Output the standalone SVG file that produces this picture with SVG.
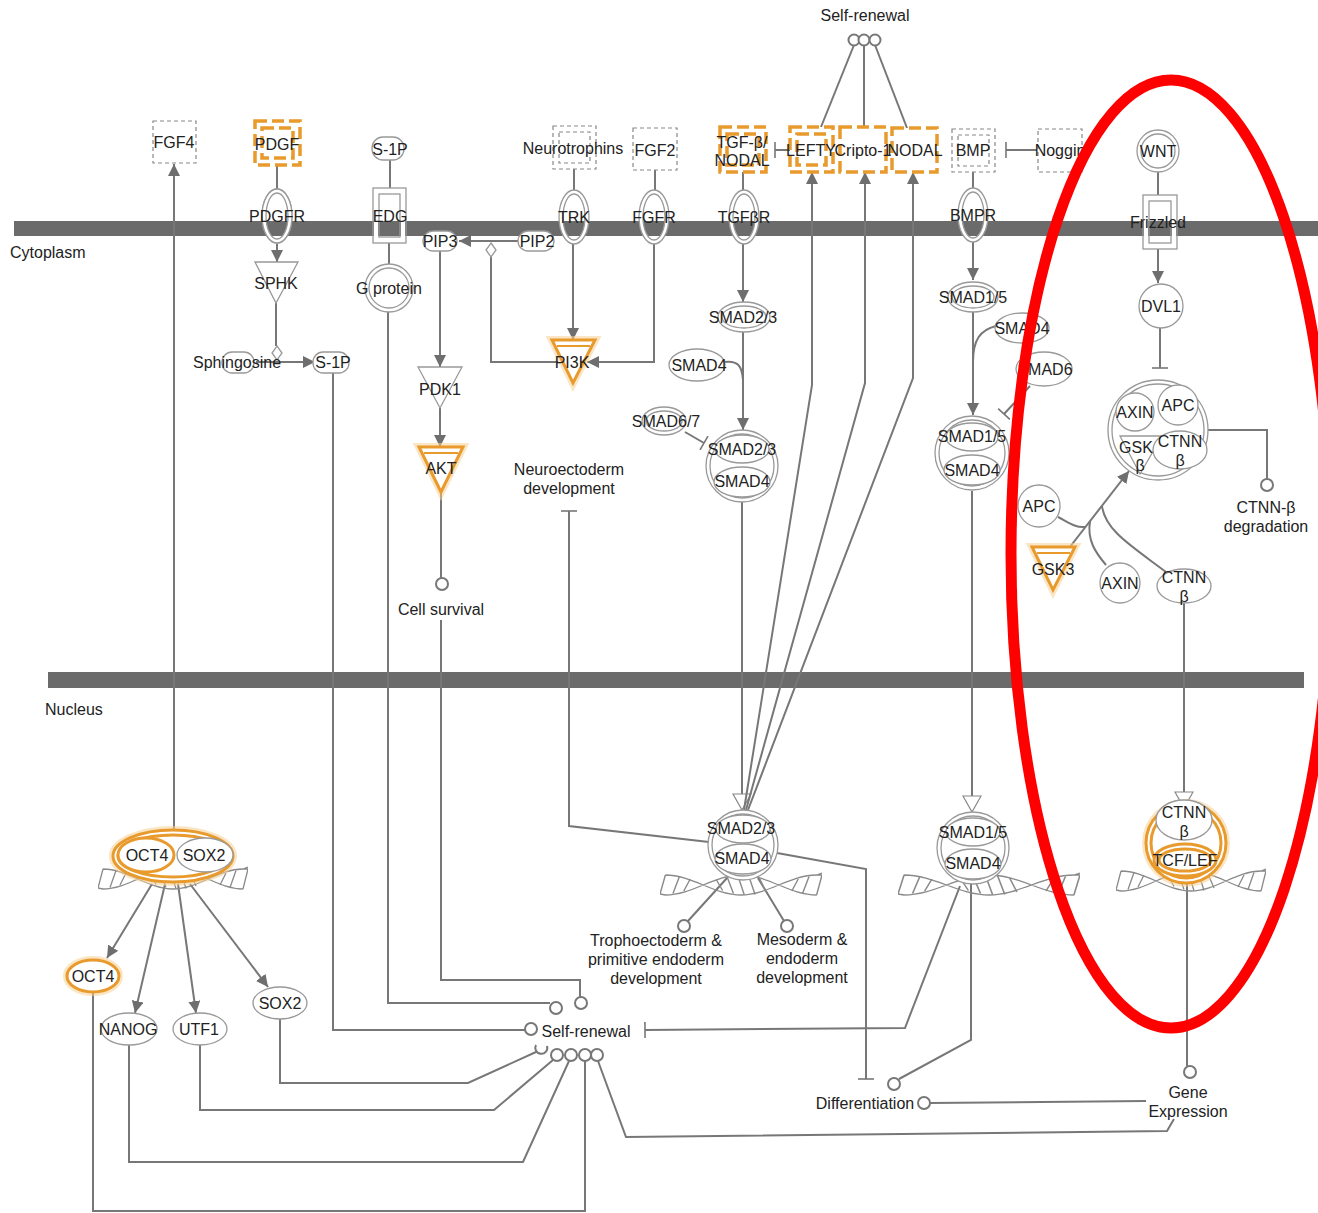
<svg xmlns="http://www.w3.org/2000/svg" width="1318" height="1213" viewBox="0 0 1318 1213">
<defs>
<style>
.ln{fill:none;stroke:#777;stroke-width:2}
.nd{fill:#fff;stroke:#999;stroke-width:1.3}
.nn{fill:none;stroke:#999;stroke-width:1.3}
.ring{fill:none;stroke:#fff;stroke-width:4}
.or{fill:#fff;stroke:#e99a2c;stroke-width:3}
.orn{fill:none;stroke:#e99a2c;stroke-width:3}
.glow{fill:none;stroke:#f6cf94;stroke-width:8;opacity:.55}
.dr{fill:#fff;stroke:#888;stroke-width:1.2;stroke-dasharray:4 3}
.drn{fill:none;stroke:#888;stroke-width:1.2;stroke-dasharray:4 3}
.dro{fill:#fff;stroke:#e99a2c;stroke-width:3.5;stroke-dasharray:12 5}
.dron{fill:none;stroke:#e99a2c;stroke-width:3.5;stroke-dasharray:12 5}
.mem{fill:#6b6b6b}
.ec{fill:#fff;stroke:#777;stroke-width:2}
.dna{fill:none;stroke:#8a8a8a;stroke-width:1.3}
text{font-family:"Liberation Sans",Arial,sans-serif;font-size:16px;fill:#222;text-anchor:middle;dominant-baseline:central}
.st{text-anchor:start}
</style>
<marker id="arr" viewBox="0 0 12 12" refX="12" refY="6" markerWidth="12" markerHeight="12" markerUnits="userSpaceOnUse" orient="auto"><path d="M0,0L12,6L0,12z" fill="#6e6e6e"/></marker>
<marker id="oarr" viewBox="0 0 18 20" refX="17" refY="10" markerWidth="18" markerHeight="20" markerUnits="userSpaceOnUse" orient="auto"><path d="M1,1L17,10L1,19z" fill="#fff" stroke="#888" stroke-width="1.2"/></marker>
<marker id="tb" viewBox="0 0 4 16" refX="2" refY="8" markerWidth="4" markerHeight="16" markerUnits="userSpaceOnUse" orient="auto"><path d="M2,0V16" stroke="#777" stroke-width="1.6"/></marker>
<symbol id="dna" viewBox="0 0 150 26" preserveAspectRatio="none">
<path class="dna" d="M5,3C30,3 50,23 75,23C100,23 120,3 145,3L150,1M5,23C30,23 50,3 75,3C100,3 120,23 145,23M5,3L0,22L5,23M145,3L150,3L145,23"/>
<path class="dna" d="M18,4.5L12,21.5M28,7L22,19M52,7.5L58,18.5M62,4.5L68,21.5M72,3.2L78,22.8M82,3.5L88,22.5M92,6L98,20M128,7L122,19M138,4.5L132,21.5"/>
</symbol>
</defs>
<rect width="1318" height="1213" fill="#fff"/>

<g id="membranes">
<rect class="mem" x="14" y="221" width="1304" height="15"/>
<rect class="mem" x="48" y="672" width="1256" height="16"/>
<text class="st" x="10" y="252">Cytoplasm</text>
<text class="st" x="45" y="709">Nucleus</text>
</g>

<g id="connectors">
<path class="ln" d="M174,830V164" marker-end="url(#arr)"/>
<path class="ln" d="M277,165V189"/>
<path class="ln" d="M277,244V262" marker-end="url(#arr)"/>
<path class="ln" d="M276,303V346"/>
<path class="ln" d="M256,362H315" marker-end="url(#arr)"/>
<path class="ln" d="M390,160V188"/>
<path class="ln" d="M389,243V265"/>
<path class="ln" d="M388,311V1003H550"/>
<path class="ln" d="M441,620V980H580V997"/>
<path class="ln" d="M333,373V1030H525"/>
<path class="ln" d="M518,241H459" marker-end="url(#arr)"/>
<path class="ln" d="M491,257V362H558"/>
<path class="ln" d="M440,251V367" marker-end="url(#arr)"/>
<path class="ln" d="M440,408V447" marker-end="url(#arr)"/>
<path class="ln" d="M441,492V578"/>
<path class="ln" d="M574,169V190"/>
<path class="ln" d="M573,244V340" marker-end="url(#arr)"/>
<path class="ln" d="M655,170V190"/>
<path class="ln" d="M654,244V362H587" marker-end="url(#arr)"/>
<path class="ln" d="M743,172V190"/>
<path class="ln" d="M743,244V302" marker-end="url(#arr)"/>
<path class="ln" d="M790,150H775" marker-end="url(#tb)"/>
<path class="ln" d="M743,332V430" marker-end="url(#arr)"/>
<path class="ln" d="M724,362C738,360 742,366 743,380"/>
<path class="ln" d="M685,432L704,443" marker-end="url(#tb)"/>
<path class="ln" d="M742,502V810" marker-end="url(#oarr)"/>
<path class="ln" d="M744,810L812,385V172" marker-end="url(#arr)"/>
<path class="ln" d="M746,810L865,383V172" marker-end="url(#arr)"/>
<path class="ln" d="M748,810L913,378V172" marker-end="url(#arr)"/>
<path class="ln" d="M854,45L821,127"/>
<path class="ln" d="M864,46V127"/>
<path class="ln" d="M875,45L907,128"/>
<path class="ln" d="M973,172V188"/>
<path class="ln" d="M1037,150H1006" marker-end="url(#tb)"/>
<path class="ln" d="M973,242V280" marker-end="url(#arr)"/>
<path class="ln" d="M973,312V415" marker-end="url(#arr)"/>
<path class="ln" d="M996,326C980,330 973,340 973,362"/>
<path class="ln" d="M1030,386L1004,414" marker-end="url(#tb)"/>
<path class="ln" d="M972,491V812" marker-end="url(#oarr)"/>
<path class="ln" d="M1158,172V195"/>
<path class="ln" d="M1158,249V283" marker-end="url(#arr)"/>
<path class="ln" d="M1160,328V368" marker-end="url(#tb)"/>
<path class="ln" d="M1208,430H1267V479"/>
<path class="ln" d="M1066,552L1129,471" marker-end="url(#arr)"/>
<path class="ln" d="M1058,517C1068,522 1075,528 1085,527"/>
<path class="ln" d="M1106,565C1095,552 1087,540 1090,521"/>
<path class="ln" d="M1166,572C1130,545 1105,530 1102,506"/>
<path class="ln" d="M1184,603V808" marker-end="url(#oarr)"/>
<path class="ln" d="M1187,883V1066"/>
<path class="ln" d="M1174,1119L1167,1131L626,1137L598,1061"/>
<path class="ln" d="M930,1103L1146,1101"/>
<path class="ln" d="M777,853L866,869V1079" marker-end="url(#tb)"/>
<path class="ln" d="M971,884V1040L899,1079"/>
<path class="ln" d="M960,886L905,1028L645,1030" marker-end="url(#tb)"/>
<path class="ln" d="M709,842L569,826V511" marker-end="url(#tb)"/>
<path class="ln" d="M727,878L688,921"/>
<path class="ln" d="M758,878L784,921"/>
<path class="ln" d="M152,884L107,958" marker-end="url(#arr)"/>
<path class="ln" d="M165,884L135,1013" marker-end="url(#arr)"/>
<path class="ln" d="M178,884L196,1013" marker-end="url(#arr)"/>
<path class="ln" d="M190,884L268,987" marker-end="url(#arr)"/>
<path class="ln" d="M280,1019V1083H468L536,1052"/>
<path class="ln" d="M200,1045V1110H494L553,1060"/>
<path class="ln" d="M129,1045V1162H523L569,1061"/>
<path class="ln" d="M93,992V1211H585V1061"/>
<circle class="ec" cx="556" cy="1008" r="6"/>
<circle class="ec" cx="581" cy="1003" r="6"/>
<circle class="ec" cx="531" cy="1029" r="6"/>
<circle class="ec" cx="442" cy="584" r="6"/>
<circle class="ec" cx="1267" cy="485" r="6"/>
<circle class="ec" cx="1190" cy="1072" r="6"/>
<circle class="ec" cx="924" cy="1103" r="6"/>
<circle class="ec" cx="894" cy="1084" r="6"/>
<circle class="ec" cx="684" cy="926" r="6"/>
<circle class="ec" cx="787" cy="926" r="6"/>
<path class="ec" d="M536,1045A6,6 0 1 0 547,1046" fill="none"/>
<circle class="ec" cx="557" cy="1055" r="6"/>
<circle class="ec" cx="571" cy="1055" r="6"/>
<circle class="ec" cx="585" cy="1055" r="6"/>
<circle class="ec" cx="597" cy="1055" r="6"/>
<circle class="ec" cx="854" cy="40" r="5.5"/>
<circle class="ec" cx="864" cy="40" r="5.5"/>
<circle class="ec" cx="875" cy="40" r="5.5"/>
</g>

<g id="n-selfrenewal-top"><text x="865" y="15">Self-renewal</text></g>
<g id="n-fgf4"><rect class="dr" x="153" y="121" width="43" height="42"/><text x="174" y="142">FGF4</text></g>
<g id="n-pdgf"><rect class="dro" x="255" y="121" width="45" height="44"/><rect class="dron" x="262" y="128" width="31" height="30"/><text x="277" y="144">PDGF</text></g>
<g id="n-s1p-top"><rect class="nd" x="372" y="137" width="32" height="23" rx="11"/><text x="390" y="149">S-1P</text></g>
<g id="n-pdgfr"><ellipse class="nd" cx="277" cy="216" rx="15" ry="27" fill="none" style="fill:none"/><ellipse class="ring" cx="277" cy="216" rx="13" ry="25"/><ellipse class="nn" cx="277" cy="216" rx="15" ry="27"/><ellipse class="nn" cx="277" cy="216" rx="11" ry="23"/><text x="277" y="216">PDGFR</text></g>
<g id="n-edg"><rect class="ring" x="376" y="191" width="27" height="49"/><rect class="nn" x="373" y="188" width="33" height="55"/><rect class="nn" x="379" y="194" width="21" height="43"/><text x="390" y="216">EDG</text></g>
<g id="n-sphk"><path class="nd" d="M255,262H298L276,303z"/><text x="276" y="283">SPHK</text></g>
<g id="n-gprotein"><circle class="nd" cx="389" cy="288" r="24"/><circle class="nn" cx="389" cy="288" r="20"/><text x="389" y="288">G protein</text></g>
<g id="n-pip3"><rect class="nd" x="423" y="231" width="34" height="20" rx="10"/><text x="440" y="241">PIP3</text></g>
<g id="n-pip2"><rect class="nd" x="518" y="231" width="36" height="20" rx="10"/><text x="537" y="241">PIP2</text></g>
<g id="n-diamonds"><path class="nd" d="M491,243L496,250L491,257L486,250z"/><path class="nd" d="M277,346L282,353L277,360L272,353z"/></g>
<g id="n-sphingosine"><rect class="nd" x="222" y="352" width="32" height="21" rx="10"/><text x="237" y="362">Sphingosine</text></g>
<g id="n-s1p"><rect class="nd" x="313" y="352" width="36" height="21" rx="10"/><text x="333" y="362">S-1P</text></g>
<g id="n-pdk1"><path class="nd" d="M418,367H462L440,408z"/><text x="440" y="389">PDK1</text></g>
<g id="n-akt"><path class="glow" d="M419,447H463L441,492z"/><path class="or" d="M419,447H463L441,492z"/><path class="orn" d="M424,453H458" style="stroke-width:2"/><text x="441" y="468">AKT</text></g>
<g id="n-cellsurvival"><text x="441" y="609">Cell survival</text></g>
<g id="n-neurotrophins"><rect class="dr" x="553" y="126" width="43" height="43"/><rect class="drn" x="559" y="132" width="31" height="31"/><text x="573" y="148">Neurotrophins</text></g>
<g id="n-fgf2"><rect class="dr" x="633" y="128" width="44" height="42"/><text x="655" y="150">FGF2</text></g>
<g id="n-trk"><ellipse class="ring" cx="574" cy="217" rx="13" ry="25"/><ellipse class="nn" cx="574" cy="217" rx="15" ry="27"/><ellipse class="nn" cx="574" cy="217" rx="11" ry="23"/><text x="574" y="217">TRK</text></g>
<g id="n-fgfr"><ellipse class="ring" cx="654" cy="217" rx="13" ry="25"/><ellipse class="nn" cx="654" cy="217" rx="15" ry="27"/><ellipse class="nn" cx="654" cy="217" rx="11" ry="23"/><text x="654" y="217">FGFR</text></g>
<g id="n-pi3k"><path class="glow" d="M552,340H595L573,383z"/><path class="or" d="M552,340H595L573,383z"/><path class="orn" d="M557,346H590" style="stroke-width:2"/><text x="572" y="362">PI3K</text></g>
<g id="n-tgfb"><rect class="dro" x="720" y="127" width="46" height="45"/><rect class="dron" x="727" y="134" width="32" height="31"/><text x="742" y="142">TGF-β/</text><text x="742" y="160">NODAL</text></g>
<g id="n-tgfbr"><ellipse class="ring" cx="744" cy="217" rx="13" ry="25"/><ellipse class="nn" cx="744" cy="217" rx="15" ry="27"/><ellipse class="nn" cx="744" cy="217" rx="11" ry="23"/><text x="744" y="217">TGFβR</text></g>
<g id="n-lefty"><rect class="dro" x="790" y="127" width="43" height="45"/><rect class="dron" x="797" y="134" width="29" height="31"/><text x="811" y="150">LEFTY</text></g>
<g id="n-cripto"><rect class="dro" x="840" y="127" width="46" height="45"/><text x="863" y="150">Cripto-1</text></g>
<g id="n-nodal"><rect class="dro" x="892" y="128" width="45" height="44"/><text x="915" y="150">NODAL</text></g>
<g id="n-bmp"><rect class="dr" x="952" y="129" width="43" height="43"/><rect class="drn" x="958" y="135" width="31" height="31"/><text x="973" y="150">BMP</text></g>
<g id="n-noggin"><rect class="dr" x="1038" y="129" width="44" height="43"/><text x="1060" y="150">Noggin</text></g>
<g id="n-bmpr"><ellipse class="ring" cx="973" cy="215" rx="13" ry="25"/><ellipse class="nn" cx="973" cy="215" rx="15" ry="27"/><ellipse class="nn" cx="973" cy="215" rx="11" ry="23"/><text x="973" y="215">BMPR</text></g>
<g id="n-wnt"><circle class="nd" cx="1158" cy="151" r="21"/><circle class="nn" cx="1158" cy="151" r="17"/><text x="1158" y="151">WNT</text></g>
<g id="n-frizzled"><rect class="ring" x="1146" y="198" width="28" height="48"/><rect class="nn" x="1143" y="195" width="34" height="54"/><rect class="nn" x="1149" y="201" width="22" height="42"/><text x="1158" y="222">Frizzled</text></g>
<g id="n-dvl1"><circle class="nd" cx="1161" cy="306" r="22"/><text x="1161" y="306">DVL1</text></g>
<g id="n-smad23"><ellipse class="nd" cx="744" cy="317" rx="26" ry="15"/><ellipse class="nn" cx="744" cy="317" rx="22" ry="11"/><text x="743" y="317">SMAD2/3</text></g>
<g id="n-smad4a"><ellipse class="nd" cx="697" cy="365" rx="28" ry="16"/><text x="699" y="365">SMAD4</text></g>
<g id="n-smad67"><ellipse class="nd" cx="664" cy="421" rx="22" ry="14"/><ellipse class="nn" cx="664" cy="421" rx="18" ry="10"/><text x="666" y="421">SMAD6/7</text></g>
<g id="n-cx-smad23"><circle class="nd" cx="742" cy="466" r="36"/><circle class="nn" cx="742" cy="466" r="32"/><ellipse class="nd" cx="742" cy="449" rx="27" ry="14"/><ellipse class="nd" cx="742" cy="482" rx="28" ry="15"/><text x="742" y="449">SMAD2/3</text><text x="742" y="481">SMAD4</text></g>
<g id="n-neuroecto"><text x="569" y="469">Neuroectoderm</text><text x="569" y="488">development</text></g>
<g id="n-smad15"><ellipse class="nd" cx="973" cy="297" rx="25" ry="15"/><ellipse class="nn" cx="973" cy="297" rx="21" ry="11"/><text x="973" y="297">SMAD1/5</text></g>
<g id="n-smad4b"><ellipse class="nd" cx="1022" cy="328" rx="27" ry="15"/><text x="1022" y="328">SMAD4</text></g>
<g id="n-smad6"><ellipse class="nd" cx="1044" cy="369" rx="28" ry="17"/><text x="1045" y="369">SMAD6</text></g>
<g id="n-cx-smad15"><circle class="nd" cx="972" cy="453" r="37"/><circle class="nn" cx="972" cy="453" r="33"/><ellipse class="nd" cx="972" cy="437" rx="26" ry="14"/><ellipse class="nd" cx="972" cy="470" rx="28" ry="15"/><text x="972" y="436">SMAD1/5</text><text x="972" y="470">SMAD4</text></g>
<g id="n-cx-wnt"><circle class="nd" cx="1158" cy="430" r="50"/><circle class="nn" cx="1158" cy="430" r="46"/><circle class="nd" cx="1135" cy="412" r="19"/><circle class="nd" cx="1178" cy="405" r="20"/><path class="nd" d="M1120,436H1162L1140,474z"/><ellipse class="nd" cx="1180" cy="450" rx="27" ry="19"/><text x="1135" y="412">AXIN</text><text x="1178" y="405">APC</text><text x="1136" y="447">GSK</text><text x="1140" y="465">β</text><text x="1180" y="441">CTNN</text><text x="1180" y="460">β</text></g>
<g id="n-ctnndeg"><text x="1266" y="507">CTNN-β</text><text x="1266" y="526">degradation</text></g>
<g id="n-apc"><circle class="nd" cx="1039" cy="506" r="21"/><text x="1039" y="506">APC</text></g>
<g id="n-gsk3"><path class="glow" d="M1032,547H1075L1053,590z"/><path class="or" d="M1032,547H1075L1053,590z"/><path class="orn" d="M1037,553H1070" style="stroke-width:2"/><text x="1053" y="569">GSK3</text></g>
<g id="n-axin"><circle class="nd" cx="1120" cy="583" r="20"/><text x="1120" y="583">AXIN</text></g>
<g id="n-ctnnb"><ellipse class="nd" cx="1184" cy="586" rx="27" ry="17"/><text x="1184" y="577">CTNN</text><text x="1184" y="596">β</text></g>

<g id="n-cx-octsox"><use href="#dna" x="98" y="866" width="150" height="26"/><ellipse class="glow" cx="173" cy="856" rx="60" ry="26"/><ellipse class="or" cx="173" cy="856" rx="60" ry="26"/><ellipse class="orn" cx="173" cy="856" rx="55" ry="21"/><ellipse class="nd" cx="205" cy="855" rx="28" ry="17"/><ellipse class="or" cx="146" cy="855" rx="28" ry="17"/><text x="147" y="855">OCT4</text><text x="204" y="855">SOX2</text></g>
<g id="n-oct4"><ellipse class="glow" cx="93" cy="976" rx="26" ry="16"/><ellipse class="or" cx="93" cy="976" rx="26" ry="16"/><text x="93" y="976">OCT4</text></g>
<g id="n-nanog"><ellipse class="nd" cx="129" cy="1029" rx="28" ry="16"/><text x="128" y="1029">NANOG</text></g>
<g id="n-utf1"><ellipse class="nd" cx="200" cy="1029" rx="27" ry="16"/><text x="199" y="1029">UTF1</text></g>
<g id="n-sox2"><ellipse class="nd" cx="280" cy="1003" rx="27" ry="16"/><text x="280" y="1003">SOX2</text></g>
<g id="n-selfrenewal"><text x="586" y="1031">Self-renewal</text></g>
<g id="n-cx-nsmad23"><use href="#dna" x="660" y="872" width="162" height="26"/><circle class="nd" cx="743" cy="845" r="35"/><circle class="nn" cx="743" cy="845" r="31"/><ellipse class="nd" cx="743" cy="829" rx="27" ry="14"/><ellipse class="nd" cx="743" cy="859" rx="28" ry="15"/><text x="741" y="828">SMAD2/3</text><text x="742" y="858">SMAD4</text></g>
<g id="n-tropho"><text x="656" y="940">Trophoectoderm &amp;</text><text x="656" y="959">primitive endoderm</text><text x="656" y="978">development</text></g>
<g id="n-meso"><text x="802" y="939">Mesoderm &amp;</text><text x="802" y="958">endoderm</text><text x="802" y="977">development</text></g>
<g id="n-cx-nsmad15"><use href="#dna" x="898" y="872" width="182" height="26"/><circle class="nd" cx="973" cy="848" r="36"/><circle class="nn" cx="973" cy="848" r="32"/><ellipse class="nd" cx="973" cy="832" rx="27" ry="14"/><ellipse class="nd" cx="973" cy="864" rx="28" ry="15"/><text x="973" y="832">SMAD1/5</text><text x="973" y="863">SMAD4</text></g>
<g id="n-cx-tcf"><use href="#dna" x="1116" y="868" width="150" height="26"/><circle class="glow" cx="1186" cy="843" r="40"/><circle class="or" cx="1186" cy="843" r="40"/><circle class="orn" cx="1186" cy="843" r="35"/><ellipse class="nd" cx="1184" cy="820" rx="28" ry="20"/><ellipse class="or" cx="1185" cy="860" rx="31" ry="16"/><ellipse class="orn" cx="1185" cy="860" rx="26" ry="11"/><text x="1184" y="812">CTNN</text><text x="1184" y="831">β</text><text x="1185" y="860">TCF/LEF</text></g>
<g id="n-diff"><text x="865" y="1103">Differentiation</text></g>
<g id="n-geneexp"><text x="1188" y="1092">Gene</text><text x="1188" y="1111">Expression</text></g>

<g id="highlight"><ellipse cx="1171" cy="554" rx="160" ry="474" fill="none" stroke="#ff0000" stroke-width="11"/></g>
</svg>
